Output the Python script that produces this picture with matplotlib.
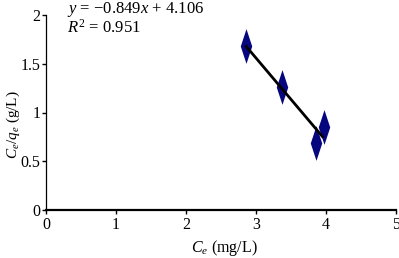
import numpy as np
import matplotlib.pyplot as plt
from matplotlib.path import Path

# data
ce = [2.86, 3.37, 3.86, 3.97]
ce_qe = [1.68, 1.26, 0.69, 0.85]
slope = -0.849
intercept = 4.106
r2 = 0.951
xticks = [0, 1, 2, 3, 4, 5]
yticks = [0, 0.5, 1, 1.5, 2]
ytick_labels = ['0', '0.5', '1', '1.5', '2']

plt.rcParams['font.family'] = ['Liberation Serif', 'DejaVu Serif']
plt.rcParams['mathtext.fontset'] = 'custom'
plt.rcParams['mathtext.rm'] = 'Liberation Serif'
plt.rcParams['mathtext.it'] = 'Liberation Serif:italic'

fig = plt.figure(figsize=(3.99, 2.58), dpi=100)
ax = fig.add_axes([46/399, 48/258, 350/399, 195/258])

# tall thin diamond like the original marker
diamond = Path([(0, 1), (0.33, 0), (0, -1), (-0.33, 0), (0, 1)],
               [Path.MOVETO, Path.LINETO, Path.LINETO, Path.LINETO, Path.CLOSEPOLY])
ax.plot(ce, ce_qe, linestyle='none', marker=diamond, markersize=25,
        color='#06067f', markeredgewidth=0, zorder=2)

# trend line over the data range
xf = np.array([min(ce), 3.95])
ax.plot(xf, slope * xf + intercept, color='black', lw=2.0, zorder=3)

ax.set_xlim(0, 5)
ax.set_ylim(0, 2)
ax.set_xticks(xticks)
ax.set_yticks(yticks)
ax.set_xticklabels([str(t) for t in xticks])
ax.set_yticklabels(ytick_labels)
ax.tick_params(direction='out', length=3, width=1, labelsize=11.5)
ax.tick_params(axis='x', pad=2)
ax.tick_params(axis='y', pad=1)

for s in ['top', 'right']:
    ax.spines[s].set_visible(False)
ax.spines['bottom'].set_linewidth(1.6)
ax.spines['left'].set_linewidth(0.9)

ax.set_xlabel(r'$C_e$ (mg/L)', fontsize=11.5)
ax.xaxis.set_label_coords(0.51, -0.145)
ax.set_ylabel(r'$C_e/q_e$ (g/L)', fontsize=11)
ax.yaxis.set_label_coords(-0.068, 0.44)

ax.text(0.06, 1.026, r'$y$ = $-$0.849$x$ + 4.106', transform=ax.transAxes,
        fontsize=12, va='center', ha='left')
ax.text(0.06, 0.933, r'$R^2$ = 0.951', transform=ax.transAxes,
        fontsize=12, va='center', ha='left')

fig.savefig('out.png', dpi=100)
